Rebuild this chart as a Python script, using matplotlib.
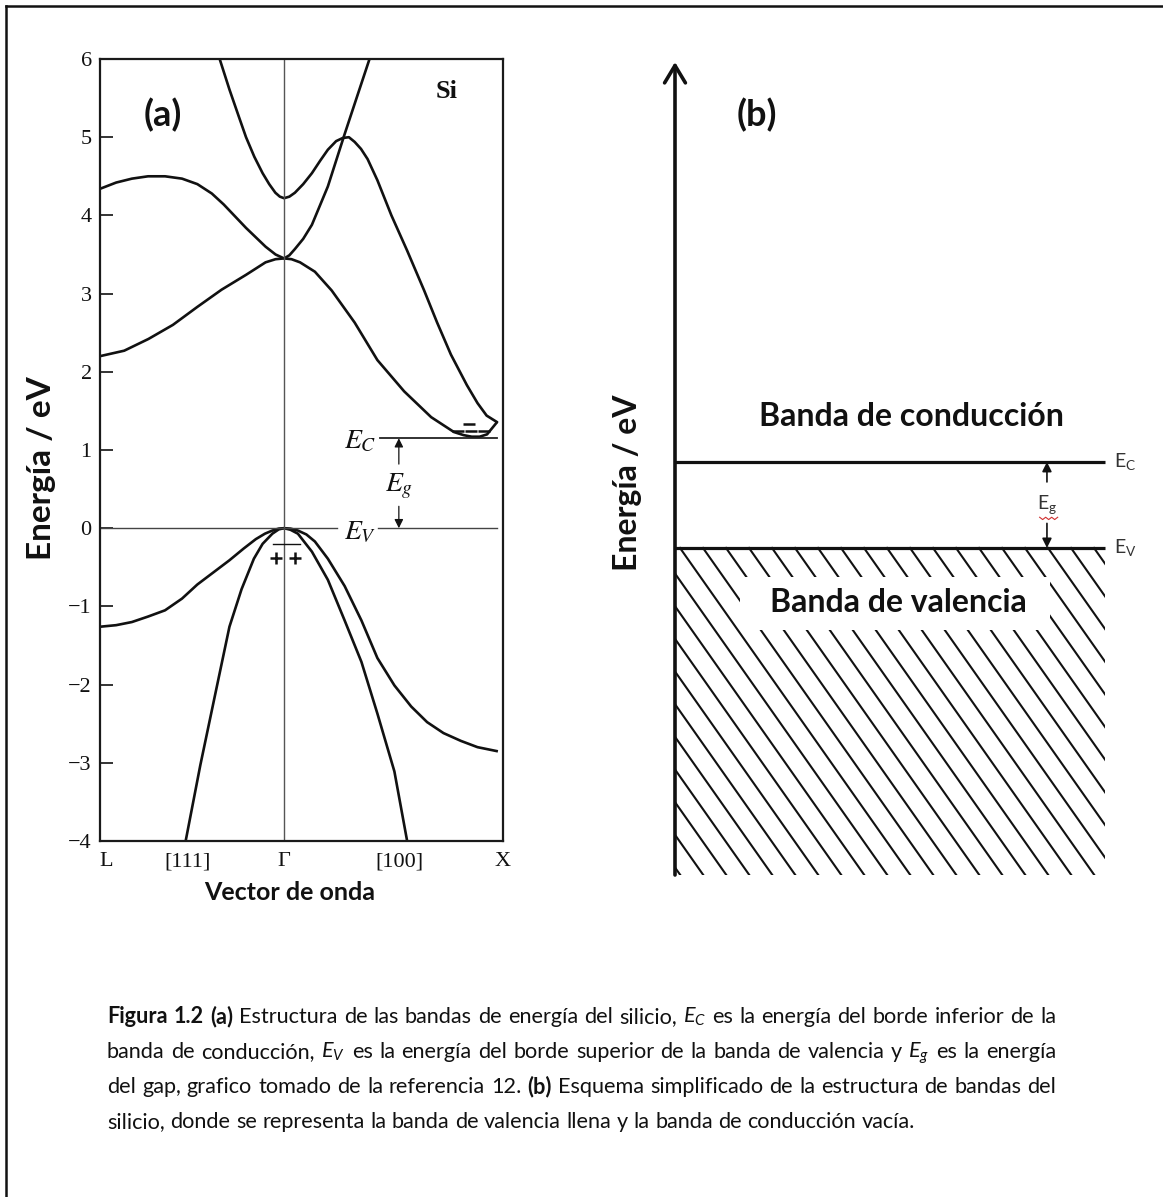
import matplotlib
matplotlib.use('Agg')
import matplotlib.pyplot as plt
from matplotlib.patches import Rectangle
import numpy as np

plt.rcParams['mathtext.fontset'] = 'custom'
plt.rcParams['mathtext.rm'] = 'Lato'
plt.rcParams['mathtext.it'] = 'Lato:italic'
plt.rcParams['mathtext.bf'] = 'Lato:bold'

# ---- panel (a): bandas del silicio (k en unidades 2pi/a, L=-0.866, X=1) ----
k_L, k_X = -0.866, 1.0
tick_pos = [-0.835, -0.454, 0.0, 0.542, 1.03]
tick_lab = ['L', '[111]', 'Γ', '[100]', 'X']

# banda de conduccion baja: L -> Gamma -> minimo cerca de X
cb1_k = [-0.866, -0.752, -0.638, -0.523, -0.408, -0.294, -0.179, -0.087, -0.04, 0.0,
         0.035, 0.075, 0.145, 0.224, 0.332, 0.439, 0.565, 0.692, 0.799, 0.845, 0.883, 0.92, 0.955, 1.0]
cb1_E = [2.20, 2.27, 2.42, 2.60, 2.83, 3.05, 3.24, 3.40, 3.44, 3.45,
         3.44, 3.40, 3.28, 3.04, 2.63, 2.15, 1.75, 1.42, 1.23, 1.19, 1.17, 1.17, 1.20, 1.35]
# banda que baja desde L (4.3) a Gamma y sube empinada
cb2_k = [-0.866, -0.790, -0.716, -0.640, -0.560, -0.480, -0.408, -0.340, -0.284, -0.179, -0.087, -0.04, 0.0,
         0.025, 0.051, 0.09, 0.131, 0.206, 0.285, 0.341, 0.402]
cb2_E = [4.34, 4.42, 4.47, 4.50, 4.50, 4.47, 4.40, 4.28, 4.14, 3.84, 3.60, 3.50, 3.45,
         3.49, 3.57, 3.70, 3.88, 4.37, 5.04, 5.50, 6.00]
# banda superior: minimo 4.2 en Gamma, pico 5 y baja a X
cb3_k = [-0.303, -0.257, -0.215, -0.179, -0.140, -0.101, -0.070, -0.041, -0.02, 0.0, 0.025, 0.051, 0.09,
         0.131, 0.170, 0.206, 0.245, 0.276, 0.305, 0.332, 0.362, 0.393, 0.439, 0.505, 0.579, 0.659,
         0.720, 0.785, 0.860, 0.910, 0.953, 1.0]
cb3_E = [6.00, 5.61, 5.28, 5.00, 4.75, 4.54, 4.40, 4.29, 4.24, 4.22, 4.24, 4.29, 4.40,
         4.54, 4.70, 4.84, 4.95, 4.99, 5.00, 4.94, 4.85, 4.72, 4.45, 4.00, 3.55, 3.04,
         2.63, 2.22, 1.83, 1.60, 1.44, 1.36]
# banda de valencia ancha: L -> Gamma -> X
vb1_k = [-0.866, -0.790, -0.716, -0.640, -0.560, -0.480, -0.408, -0.330, -0.257, -0.190, -0.133, -0.090,
         -0.055, -0.025, 0.0, 0.03, 0.065, 0.105, 0.145, 0.206, 0.285, 0.364, 0.439, 0.519, 0.598,
         0.673, 0.750, 0.832, 0.910, 1.0]
vb1_E = [-1.26, -1.24, -1.20, -1.13, -1.05, -0.90, -0.72, -0.56, -0.41, -0.26, -0.14, -0.07,
         -0.03, -0.005, 0.0, -0.005, -0.03, -0.08, -0.17, -0.39, -0.74, -1.18, -1.66, -2.01, -2.28,
         -2.48, -2.62, -2.72, -2.80, -2.85]
# banda de valencia empinada
vb2_k = [-0.463, -0.394, -0.326, -0.257, -0.200, -0.142, -0.101, -0.055, -0.025, 0.0,
         0.03, 0.065, 0.131, 0.206, 0.285, 0.364, 0.439, 0.519, 0.579]
vb2_E = [-4.00, -3.03, -2.15, -1.26, -0.78, -0.39, -0.20, -0.07, -0.015, 0.0,
         -0.02, -0.07, -0.30, -0.66, -1.18, -1.71, -2.37, -3.11, -4.00]

Ec_a, Ev_a = 1.15, 0.0
hole_k, hole_E = [-0.04, 0.05], [-0.38, -0.38]
elec_k, elec_E = [0.87, 0.82, 0.88, 0.94], [1.33, 1.24, 1.24, 1.24]

# ---- panel (b): esquema ----
Ec_b, Ev_b = 1.12, 0.0
yb_lo, yb_hi = -4.26, 6.33
# subrayado rojo (corrector) bajo E_g
squig_x = [0.848, 0.855, 0.862, 0.869, 0.876, 0.883, 0.890]
squig_y = [0.40, 0.37, 0.40, 0.37, 0.40, 0.37, 0.40]

W, H = 1163, 1197
fig = plt.figure(figsize=(W / 100, H / 100), dpi=100)


def box(l, t, r, b):
    return [l / W, 1 - b / H, (r - l) / W, (b - t) / H]


ink = '#111111'
serif = 'Liberation Serif'
sans = 'Lato'

ax = fig.add_axes(box(100, 59, 503, 841))
ax.set_xlim(k_L, k_X)
ax.set_ylim(-4, 6)
for kk, ee in [(cb1_k, cb1_E), (cb2_k, cb2_E), (cb3_k, cb3_E), (vb1_k, vb1_E), (vb2_k, vb2_E)]:
    ax.plot(kk, ee, color=ink, lw=1.9, solid_joinstyle='round')
ax.axvline(0, color='#555555', lw=1.0)
ax.plot([k_L, 0.25], [Ev_a, Ev_a], color='#444444', lw=1.0)
ax.plot([0.44, k_X], [Ev_a, Ev_a], color='#444444', lw=1.0)
ax.plot([0.45, k_X], [Ec_a, Ec_a], color='#222222', lw=1.3)
ax.plot([-0.05, 0.075], [-0.2, -0.2], color=ink, lw=1.0)
ax.plot(hole_k, hole_E, ls='none', marker='+', ms=9, mew=1.8, color=ink)
ax.plot(elec_k, elec_E, ls='none', marker='_', ms=9, mew=1.8, color=ink)
ax.annotate('', xy=(0.54, Ec_a), xytext=(0.54, 0.82),
            arrowprops=dict(arrowstyle='-|>', lw=0.9, color=ink, mutation_scale=13, shrinkA=0, shrinkB=0))
ax.annotate('', xy=(0.54, Ev_a), xytext=(0.54, 0.28),
            arrowprops=dict(arrowstyle='-|>', lw=0.9, color=ink, mutation_scale=13, shrinkA=0, shrinkB=0))
ax.text(0.54, 0.53, '$E_g$', math_fontfamily='stix', fontsize=20, ha='center', va='center', color=ink)
ax.text(0.435, Ec_a - 0.03, '$E_C$', math_fontfamily='stix', fontsize=20, ha='right', va='center', color=ink,
        bbox=dict(facecolor='white', edgecolor='none', pad=0.5))
ax.text(0.435, Ev_a - 0.04, '$E_V$', math_fontfamily='stix', fontsize=20, ha='right', va='center', color=ink,
        bbox=dict(facecolor='white', edgecolor='none', pad=0.5))
ax.set_yticks(range(-4, 7))
ax.set_xticks(tick_pos)
ax.set_xticklabels(tick_lab)
ax.tick_params(axis='y', direction='in', length=9, width=1.2, labelsize=16, pad=6, colors=ink)
ax.tick_params(axis='x', length=0, labelsize=16, pad=8, colors=ink)
for lab in ax.get_xticklabels() + ax.get_yticklabels():
    lab.set_fontfamily(serif)
for sp in ax.spines.values():
    sp.set_linewidth(1.6)
    sp.set_color('#1a1a1a')

# panel (b)
bx = fig.add_axes(box(675, 62, 1105, 875))
bx.set_xlim(0, 1)
bx.set_ylim(yb_lo, yb_hi)
bx.axis('off')
bw_px, bh_px = 430.0, 813.0
px_eV = bh_px / (yb_hi - yb_lo)
slope = 1.42
drop = (Ev_b - yb_lo) * px_eV / slope
for off in np.arange(5 - 23 * 11, bw_px + 1, 23):
    bx.plot([off / bw_px, (off + drop) / bw_px], [Ev_b, yb_lo], color=ink, lw=1.5)
for lev in (Ec_b, Ev_b):
    bx.plot([0, 1], [lev, lev], color=ink, lw=2.3, clip_on=False, solid_capstyle='butt')
bx.annotate('', xy=(0, yb_hi), xytext=(0, yb_lo), annotation_clip=False,
            arrowprops=dict(arrowstyle='->,head_length=0.5,head_width=0.3', lw=2.6, color=ink,
                            mutation_scale=25, shrinkA=0, shrinkB=0))
lab_kw = dict(math_fontfamily='custom', fontsize=14, color='#333333')
bx.text(1.02, Ec_b, r'$\mathrm{E}_\mathrm{C}$', va='center', ha='left', **lab_kw)
bx.text(1.02, Ev_b, r'$\mathrm{E}_\mathrm{V}$', va='center', ha='left', **lab_kw)
bx.annotate('', xy=(0.865, Ec_b), xytext=(0.865, 0.86), annotation_clip=False,
            arrowprops=dict(arrowstyle='-|>', lw=1.2, color=ink, mutation_scale=14, shrinkA=0, shrinkB=0))
bx.annotate('', xy=(0.865, Ev_b), xytext=(0.865, 0.32), annotation_clip=False,
            arrowprops=dict(arrowstyle='-|>', lw=1.2, color=ink, mutation_scale=14, shrinkA=0, shrinkB=0))
bx.text(0.865, 0.57, r'$\mathrm{E}_\mathrm{g}$', ha='center', va='center', **lab_kw)
bx.plot(squig_x, squig_y, color='#d03030', lw=0.8)

# overlay in pixel coordinates: frame, labels, caption
ov = fig.add_axes([0, 0, 1, 1])
ov.set_xlim(0, W)
ov.set_ylim(H, 0)
ov.axis('off')
ov.plot([6, 6], [6, H], color=ink, lw=1.8)
ov.plot([6, W], [6, 6], color=ink, lw=1.8)
ov.add_patch(Rectangle((740, 577), 310, 53, facecolor='white', edgecolor='none'))

bold_kw = dict(fontweight='bold', family=sans, ha='center', va='center', color=ink)
ov.text(163, 115, '(a)', fontsize=26, **bold_kw)
ov.text(447, 92, 'Si', fontsize=19, fontweight='bold', family=serif, ha='center', va='center', color=ink)
ov.text(42, 468, 'Energía / eV', rotation=90, fontsize=24, **bold_kw)
ov.text(290, 893, 'Vector de onda', fontsize=18, **bold_kw)
ov.text(757, 115, '(b)', fontsize=26, **bold_kw)
ov.text(628, 483, 'Energía / eV', rotation=90, fontsize=23, **bold_kw)
ov.text(911, 417, 'Banda de conducción', fontsize=23, **bold_kw)
ov.text(898, 602, 'Banda de valencia', fontsize=23, **bold_kw)

# caption, justified line by line
cap_lines = [
    "*Figura *1.2 *(a) Estructura de las bandas de energía del silicio, $E_C$ es la energía del borde inferior de la",
    "banda de conducción, $E_V$ es la energía del borde superior de la banda de valencia y $E_g$ es la energía",
    "del gap, grafico tomado de la referencia 12. *(b) Esquema simplificado de la estructura de bandas del",
    "silicio, donde se representa la banda de valencia llena y la banda de conducción vacía.",
]
cap_y = [1023, 1058, 1093, 1128]
x0, x1 = 107, 1056
renderer = fig.canvas.get_renderer()


def make_words(line, y, fs):
    arts = []
    for tok in line.split(' '):
        bold = tok.startswith('*')
        arts.append(ov.text(0, y, tok.lstrip('*'), fontsize=fs, family=sans, math_fontfamily='custom',
                            fontweight='bold' if bold else 'normal', ha='left', va='baseline', color=ink))
    return arts


def widths(arts):
    return [a.get_window_extent(renderer).width for a in arts]


fs = 14.0
sp_t = ov.text(0, 0, 'n n', fontsize=fs, family=sans)
sp_n = ov.text(0, 0, 'nn', fontsize=fs, family=sans)
space = sp_t.get_window_extent(renderer).width - sp_n.get_window_extent(renderer).width
sp_t.remove()
sp_n.remove()
nat = 0
for line in cap_lines[:3]:
    tmp = make_words(line, 0, fs)
    nat = max(nat, sum(widths(tmp)) + space * (len(tmp) - 1))
    for a in tmp:
        a.remove()
scale = 0.995 * (x1 - x0) / nat
fs *= scale
space *= scale

for i, (line, y) in enumerate(zip(cap_lines, cap_y)):
    arts = make_words(line, y, fs)
    ws = widths(arts)
    gap = (x1 - x0 - sum(ws)) / (len(arts) - 1) if i < 3 else space
    x = x0
    for a, w in zip(arts, ws):
        a.set_x(x)
        x += w + gap

fig.savefig('out.png', dpi=100)
